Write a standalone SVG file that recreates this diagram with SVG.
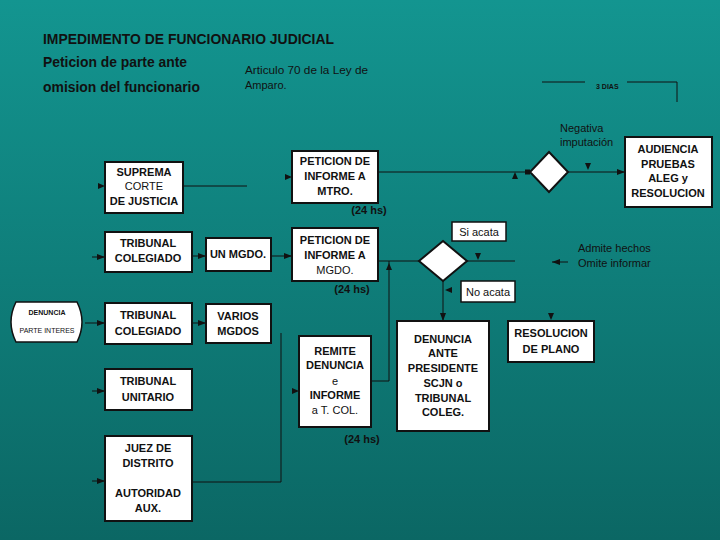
<svg xmlns="http://www.w3.org/2000/svg" xmlns:xlink="http://www.w3.org/1999/xlink" width="720" height="540" viewBox="0 0 720 540">
<defs>
<linearGradient id="bg" x1="0" y1="0" x2="0" y2="1">
<stop offset="0" stop-color="#139590"/>
<stop offset="1" stop-color="#0b6764"/>
</linearGradient>
<marker id="arr" viewBox="0 0 8 6" refX="8" refY="3" markerWidth="8" markerHeight="6" markerUnits="userSpaceOnUse" orient="auto">
<path d="M0,0 L8,3 L0,6 Z" fill="#111"/>
</marker>
<path id="ah" d="M0,0 L-7,-3 L-7,3 Z" fill="#111"/>
<style>
text{font-family:"Liberation Sans",Arial,sans-serif;fill:#111}
.b{font-weight:bold;font-size:11px;text-anchor:middle}
.n{font-size:11px;text-anchor:middle}
.box{fill:#fff;stroke:#111;stroke-width:2}
.ln{fill:none;stroke:#111;stroke-width:1}
.ttl{font-weight:bold;font-size:14px}
.lbl{font-size:11px}
</style>
</defs>
<rect width="720" height="540" fill="url(#bg)"/>

<g id="titles">
<text class="ttl" x="43" y="44" textLength="291" lengthAdjust="spacingAndGlyphs">IMPEDIMENTO DE FUNCIONARIO JUDICIAL</text>
<text class="ttl" x="43" y="67" textLength="144" lengthAdjust="spacingAndGlyphs">Peticion de parte ante</text>
<text class="ttl" x="43" y="92" textLength="157" lengthAdjust="spacingAndGlyphs">omision del funcionario</text>
<text class="lbl" x="245" y="74" textLength="123" lengthAdjust="spacingAndGlyphs">Articulo 70 de la Ley de</text>
<text class="lbl" x="245" y="89">Amparo.</text>
<text x="596" y="89" style="font-size:7px;font-weight:bold">3 DIAS</text>
<text class="lbl" x="560" y="132">Negativa</text>
<text class="lbl" x="560" y="146">imputación</text>
<text class="lbl" x="578" y="252">Admite hechos</text>
<text class="lbl" x="578" y="267">Omite informar</text>
<text x="369" y="214" style="font-weight:bold;font-size:11px;text-anchor:middle">(24 hs)</text>
<text x="352" y="293" style="font-weight:bold;font-size:11px;text-anchor:middle">(24 hs)</text>
<text x="362" y="443" style="font-weight:bold;font-size:11px;text-anchor:middle">(24 hs)</text>
</g>

<g id="connectors">
<path class="ln" d="M542,82 H585 M627,82 H677 V102"/>
<line class="ln" x1="92" y1="257" x2="105" y2="257" marker-end="url(#arr)"/>
<line class="ln" x1="92" y1="391" x2="105" y2="391" marker-end="url(#arr)"/>
<line class="ln" x1="92" y1="481" x2="105" y2="481" marker-end="url(#arr)"/>
<use xlink:href="#ah" transform="translate(105,186)"/>
<line class="ln" x1="183" y1="186" x2="247" y2="186"/>
<use xlink:href="#ah" transform="translate(292,177)"/>
<line class="ln" x1="378" y1="172" x2="530" y2="172"/>
<rect x="525" y="169.5" width="5" height="5" fill="#111"/>
<use xlink:href="#ah" transform="translate(515,172) rotate(-90)"/>
<line class="ln" x1="568" y1="172" x2="625" y2="172" marker-end="url(#arr)"/>
<use xlink:href="#ah" transform="translate(588,170) rotate(90)"/>
<line class="ln" x1="192" y1="256" x2="206" y2="256" marker-end="url(#arr)"/>
<line class="ln" x1="271" y1="256" x2="292" y2="256" marker-end="url(#arr)"/>
<line class="ln" x1="378" y1="261" x2="419" y2="261"/>
<line class="ln" x1="467" y1="261" x2="515" y2="261"/>
<use xlink:href="#ah" transform="translate(478,260) rotate(90)"/>
<line class="ln" x1="568" y1="262" x2="552" y2="262" marker-end="url(#arr)"/>
<line class="ln" x1="443" y1="281" x2="443" y2="321" marker-end="url(#arr)"/>
<use xlink:href="#ah" transform="translate(445,290) rotate(180)"/>
<use xlink:href="#ah" transform="translate(551,320) rotate(90)"/>
<line class="ln" x1="85" y1="323" x2="105" y2="323" marker-end="url(#arr)"/>
<line class="ln" x1="192" y1="323" x2="206" y2="323" marker-end="url(#arr)"/>
<path class="ln" d="M192,482 H281 V333"/>
<use xlink:href="#ah" transform="translate(299,391)"/>
<path class="ln" d="M371,381 H389 V261"/>
<use xlink:href="#ah" transform="translate(389,263) rotate(-90)"/>
</g>

<g id="suprema">
<rect class="box" x="105" y="162" width="78" height="51"/>
<text class="b" x="144" y="176">SUPREMA</text>
<text class="n" x="144" y="190">CORTE</text>
<text class="b" x="144" y="205">DE JUSTICIA</text>
</g>
<g id="peticion-mtro">
<rect class="box" x="292" y="151" width="86" height="52"/>
<text class="b" x="335" y="165">PETICION DE</text>
<text class="b" x="335" y="180">INFORME A</text>
<text class="b" x="335" y="195">MTRO.</text>
</g>
<g id="diamond-mtro">
<polygon points="549,152 568,172 549,192 530,172" fill="#fff" stroke="#111" stroke-width="2"/>
</g>
<g id="audiencia">
<rect class="box" x="625" y="137" width="87" height="70"/>
<text class="b" x="668" y="153">AUDIENCIA</text>
<text class="b" x="668" y="168">PRUEBAS</text>
<text class="b" x="668" y="182">ALEG y</text>
<text class="b" x="668" y="197">RESOLUCION</text>
</g>
<g id="tribunal-colegiado-1">
<rect class="box" x="105" y="232" width="87" height="40"/>
<text class="b" x="148" y="247">TRIBUNAL</text>
<text class="b" x="148" y="262">COLEGIADO</text>
</g>
<g id="un-mgdo">
<rect class="box" x="206" y="238" width="65" height="33"/>
<text class="b" x="238" y="258">UN  MGDO.</text>
</g>
<g id="peticion-mgdo">
<rect class="box" x="292" y="228" width="86" height="53"/>
<text class="b" x="335" y="244">PETICION DE</text>
<text class="b" x="335" y="259">INFORME A</text>
<text class="n" x="335" y="274">MGDO.</text>
</g>
<g id="diamond-mgdo">
<polygon points="443,241 467,261 443,281 419,261" fill="#fff" stroke="#111" stroke-width="2"/>
</g>
<g id="si-acata">
<rect x="452" y="222" width="54" height="19" fill="#fff" stroke="#111" stroke-width="1.5"/>
<text class="n" x="479" y="236">Si acata</text>
</g>
<g id="no-acata">
<rect x="461" y="281" width="54" height="21" fill="#fff" stroke="#111" stroke-width="1.5"/>
<text class="n" x="488" y="296">No acata</text>
</g>
<g id="denuncia-parte">
<path d="M16,302 H77 Q87,322 77,342 H16 Q6,322 16,302 Z" fill="#fff" stroke="#111" stroke-width="1.5"/>
<text x="47" y="315" style="font-size:7px;font-weight:bold;text-anchor:middle">DENUNCIA</text>
<text x="47" y="333" style="font-size:7px;text-anchor:middle">PARTE INTERES</text>
</g>
<g id="tribunal-colegiado-2">
<rect class="box" x="105" y="303" width="87" height="41"/>
<text class="b" x="148" y="319">TRIBUNAL</text>
<text class="b" x="148" y="335">COLEGIADO</text>
</g>
<g id="varios-mgdos">
<rect class="box" x="206" y="304" width="65" height="39"/>
<text class="b" x="238" y="320">VARIOS</text>
<text class="b" x="238" y="335">MGDOS</text>
</g>
<g id="tribunal-unitario">
<rect class="box" x="105" y="369" width="87" height="41"/>
<text class="b" x="148" y="385">TRIBUNAL</text>
<text class="b" x="148" y="401">UNITARIO</text>
</g>
<g id="juez-distrito">
<rect class="box" x="105" y="436" width="87" height="85"/>
<text class="b" x="148" y="452">JUEZ DE</text>
<text class="b" x="148" y="467">DISTRITO</text>
<text class="b" x="148" y="497">AUTORIDAD</text>
<text class="b" x="148" y="512">AUX.</text>
</g>
<g id="remite">
<rect class="box" x="299" y="336" width="72" height="91"/>
<text class="b" x="335" y="355">REMITE</text>
<text class="b" x="335" y="369">DENUNCIA</text>
<text class="n" x="335" y="385">e</text>
<text class="b" x="335" y="399">INFORME</text>
<text class="n" x="335" y="414">a T. COL.</text>
</g>
<g id="denuncia-ante">
<rect class="box" x="397" y="321" width="92" height="110"/>
<text class="b" x="443" y="343">DENUNCIA</text>
<text class="b" x="443" y="357">ANTE</text>
<text class="b" x="443" y="372">PRESIDENTE</text>
<text class="b" x="443" y="387">SCJN  o</text>
<text class="b" x="443" y="402">TRIBUNAL</text>
<text class="b" x="443" y="416">COLEG.</text>
</g>
<g id="resolucion-plano">
<rect class="box" x="508" y="321" width="86" height="41"/>
<text class="b" x="551" y="337">RESOLUCION</text>
<text class="b" x="551" y="353">DE PLANO</text>
</g>
</svg>
